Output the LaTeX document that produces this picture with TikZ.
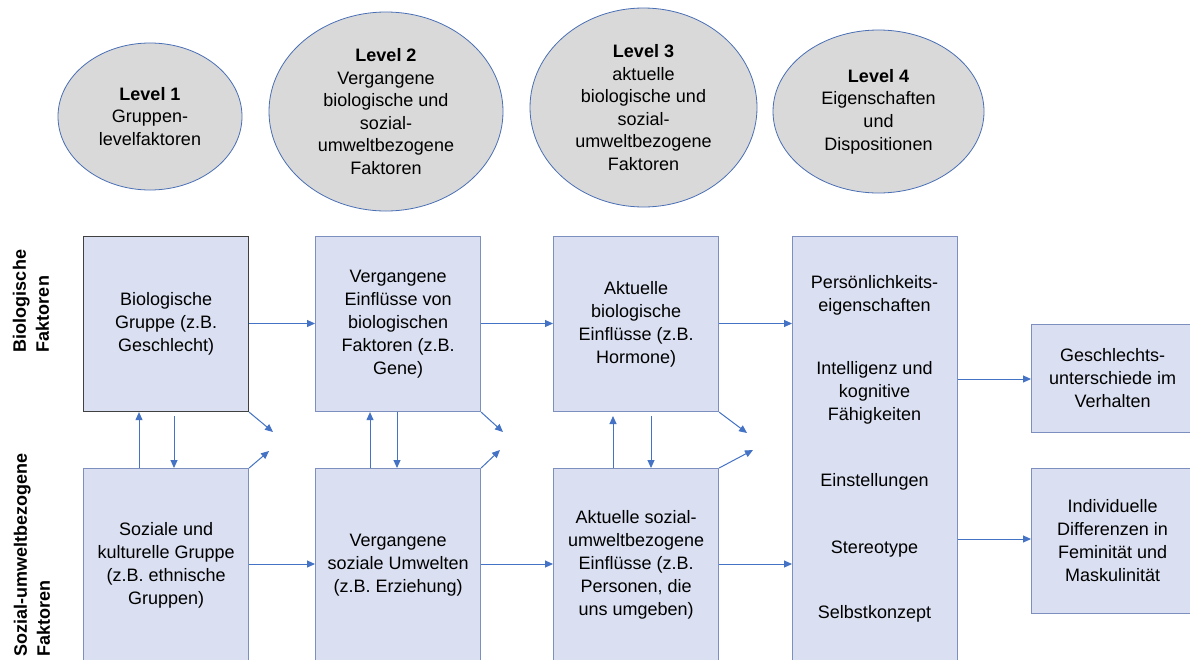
\documentclass[tikz,border=0pt]{standalone}
\usepackage{fontspec}
\setmainfont{Liberation Sans}
\usetikzlibrary{arrows.meta,shapes.geometric}
\definecolor{boxfill}{RGB}{218,224,241}
\definecolor{boxline}{RGB}{124,143,190}
\definecolor{arrowblue}{RGB}{68,114,196}
\definecolor{ellfill}{RGB}{217,217,217}
\definecolor{ellline}{RGB}{74,111,181}
\definecolor{darkline}{RGB}{64,64,64}
\begin{document}
\begin{tikzpicture}[x=1pt,y=-1pt,
  txt/.style={font=\fontsize{18}{23}\selectfont, align=center, inner sep=0pt},
  box/.style={txt, draw=boxline, fill=boxfill, line width=1.1pt, rectangle, anchor=north west},
  ell/.style={txt, ellipse, draw=ellline, fill=ellfill, line width=0.8pt, font=\fontsize{18}{22.6}\selectfont},
  side/.style={font=\bfseries\fontsize{18}{23}\selectfont, align=left, rotate=90, inner sep=0pt},
  arr/.style={draw=arrowblue, line width=1pt, -{Triangle[length=8pt,width=7pt]}}
]
\clip (0,0) rectangle (1190,659);
\fill[white] (0,0) rectangle (1190,659);

% ellipses
\node[ell, minimum width=184pt, minimum height=147pt] (e1) at (150,116.5) {\textbf{Level 1}\\Gruppen-\\levelfaktoren};
\node[ell, minimum width=234pt, minimum height=199pt] (e2) at (386,111.5) {\textbf{Level 2}\\Vergangene\\biologische und\\sozial-\\umweltbezogene\\Faktoren};
\node[ell, minimum width=227pt, minimum height=199pt] (e3) at (643.5,107.5) {\textbf{Level 3}\\aktuelle\\biologische und\\sozial-\\umweltbezogene\\Faktoren};
\node[ell, minimum width=211pt, minimum height=163pt] (e4) at (878.5,111.5) {\textbf{Level 4}\\Eigenschaften\\und\\Dispositionen};

% side labels
\node[side] (lbio) at (31,301) {Biologische\\Faktoren};
\node[side] (lsoz) at (32,555) {Sozial-umweltbezogene\\Faktoren};

% boxes
\node[box, draw=darkline, minimum width=165pt, minimum height=175pt] (b1t) at (83,236) {Biologische\\Gruppe (z.B.\\Geschlecht)};
\node[box, minimum width=165pt, minimum height=193pt] (b1s) at (83,468) {Soziale und\\kulturelle Gruppe\\(z.B. ethnische\\Gruppen)};
\node[box, minimum width=165pt, minimum height=175pt] (b2t) at (315,236) {Vergangene\\Einflüsse von\\biologischen\\Faktoren (z.B.\\Gene)};
\node[box, minimum width=165pt, minimum height=193pt] (b2s) at (315,468) {Vergangene\\soziale Umwelten\\(z.B. Erziehung)};
\node[box, minimum width=165pt, minimum height=175pt] (b3t) at (553,236) {Aktuelle\\biologische\\Einflüsse (z.B.\\Hormone)};
\node[box, minimum width=165pt, minimum height=193pt] (b3s) at (553,468) {Aktuelle sozial-\\umweltbezogene\\Einflüsse (z.B.\\Personen, die\\uns umgeben)};
\node[box, minimum width=165pt, minimum height=425pt] (b4) at (792,236) {};
\node[box, minimum width=162pt, minimum height=108pt] (b5) at (1031,324) {Geschlechts-\\unterschiede im\\Verhalten};
\node[box, minimum width=162pt, minimum height=145pt] (b6) at (1031,468) {Individuelle\\Differenzen in\\Feminität und\\Maskulinität};

% texts in level 4 box
\node[txt] (t41) at (874.5,295) {Persönlichkeits-\\eigenschaften};
\node[txt] (t42) at (874.5,393) {Intelligenz und\\kognitive\\Fähigkeiten};
\node[txt] (t43) at (874.5,482) {Einstellungen};
\node[txt] (t44) at (874.5,549) {Stereotype};
\node[txt] (t45) at (874.5,614) {Selbstkonzept};

% helper coordinates
\coordinate (rowT) at (0,323.5);
\coordinate (rowS) at (0,564);
\coordinate (row5) at (0,379);
\coordinate (row6) at (0,539);
\coordinate (v1u) at (139,0);
\coordinate (v1d) at (174,416);
\coordinate (v2u) at (370,0);
\coordinate (v2d) at (397,0);
\coordinate (v3u) at (613,416);
\coordinate (v3d) at (651,416);
\coordinate (d1a) at (273,432);
\coordinate (d1b) at (269,451);
\coordinate (d2a) at (503,432);
\coordinate (d2b) at (500,450);
\coordinate (d3a) at (747,433);
\coordinate (d3b) at (753,450);

% horizontal arrows
\draw[arr] (b1t.east |- rowT) -- (b2t.west |- rowT);
\draw[arr] (b2t.east |- rowT) -- (b3t.west |- rowT);
\draw[arr] (b3t.east |- rowT) -- (b4.west |- rowT);
\draw[arr] (b1s.east |- rowS) -- (b2s.west |- rowS);
\draw[arr] (b2s.east |- rowS) -- (b3s.west |- rowS);
\draw[arr] (b3s.east |- rowS) -- (b4.west |- rowS);
\draw[arr] (b4.east |- row5) -- (b5.west |- row5);
\draw[arr] (b4.east |- row6) -- (b6.west |- row6);

% vertical arrows
\draw[arr] (b1s.north -| v1u) -- (b1t.south -| v1u);
\draw[arr] (v1d) -- (b1s.north -| v1d);
\draw[arr] (b2s.north -| v2u) -- (b2t.south -| v2u);
\draw[arr] (b2t.south -| v2d) -- (b2s.north -| v2d);
\draw[arr] (b3s.north -| v3u) -- (v3u);
\draw[arr] (v3d) -- (b3s.north -| v3d);

% diagonal arrows
\draw[arr] (b1t.south east) -- (d1a);
\draw[arr] (b1s.north east) -- (d1b);
\draw[arr] (b2t.south east) -- (d2a);
\draw[arr] (b2s.north east) -- (d2b);
\draw[arr] (b3t.south east) -- (d3a);
\draw[arr] (b3s.north east) -- (d3b);
\end{tikzpicture}
\end{document}
